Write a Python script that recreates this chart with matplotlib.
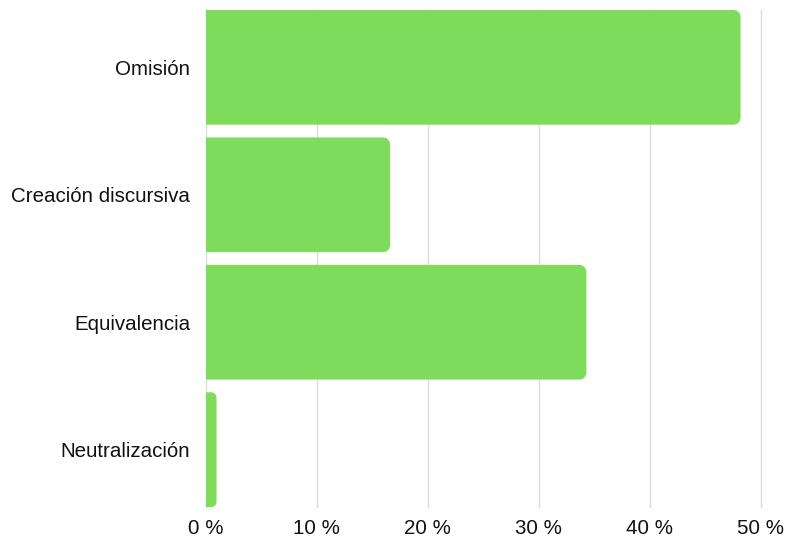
import numpy as np
import matplotlib
matplotlib.use('Agg')
import matplotlib.pyplot as plt
from matplotlib.patches import PathPatch
from matplotlib.path import Path

# share of each translation technique, in percent
categories = ['Omisión', 'Creación discursiva', 'Equivalencia', 'Neutralización']
values = [48.2, 16.6, 34.3, 0.95]
ticks = [0, 10, 20, 30, 40, 50]
tick_labels = ['0 %', '10 %', '20 %', '30 %', '40 %', '50 %']

BAR_COLOR = '#7fdb5c'
BAR_H = 0.9
RADIUS_PX = 7

plt.rcParams['font.family'] = ['Liberation Sans', 'DejaVu Sans']

fig = plt.figure(figsize=(7.87, 5.41), dpi=100)
ax = fig.add_axes([206 / 787, 1 - 507 / 541, (760.5 - 206) / 787, (507 - 10) / 541])
ax.set_xlim(0, 50)
ax.set_ylim(len(categories) - 1 + BAR_H / 2, -BAR_H / 2)

# plain bars first, then swap each for a shape rounded on the right end
bars = ax.barh(range(len(categories)), values, height=BAR_H, color=BAR_COLOR, zorder=3)
fig.canvas.draw()


def rounded_right(rect):
    x0, y0 = rect.get_x(), rect.get_y()
    w, h = rect.get_width(), rect.get_height()
    (px0, py0), (px1, py1) = ax.transData.transform([(x0, y0), (x0 + w, y0 + h)])
    r = min(RADIUS_PX, abs(px1 - px0) / 2)
    rx = r * w / abs(px1 - px0)
    ry = r * h / abs(py1 - py0)
    t = np.linspace(0, np.pi / 2, 12)
    x1, y1 = x0 + w, y0 + h
    # y axis is inverted, so y0 is the top edge on screen
    top = np.column_stack([x1 - rx + rx * np.sin(t), y0 + ry - ry * np.cos(t)])
    bot = np.column_stack([x1 - rx + rx * np.cos(t), y1 - ry + ry * np.sin(t)])
    verts = np.vstack([[x0, y0], top, bot, [x0, y1], [x0, y0]])
    return Path(verts, closed=True)


for rect in bars:
    ax.add_patch(PathPatch(rounded_right(rect), fc=BAR_COLOR, ec='none', zorder=3))
    rect.remove()

ax.set_xticks(ticks)
ax.set_xticklabels(tick_labels)
ax.set_yticks(range(len(categories)))
ax.set_yticklabels(categories)
ax.grid(axis='x', color='#dcdcdc', linewidth=1, zorder=0)
for gl in ax.get_xgridlines():
    gl.set_clip_on(False)
for s in ax.spines.values():
    s.set_visible(False)
ax.tick_params(axis='both', length=0, labelsize=14.8, colors='#111111')
ax.tick_params(axis='y', pad=11.5)
ax.tick_params(axis='x', pad=9)

fig.savefig('out.png', dpi=100)
